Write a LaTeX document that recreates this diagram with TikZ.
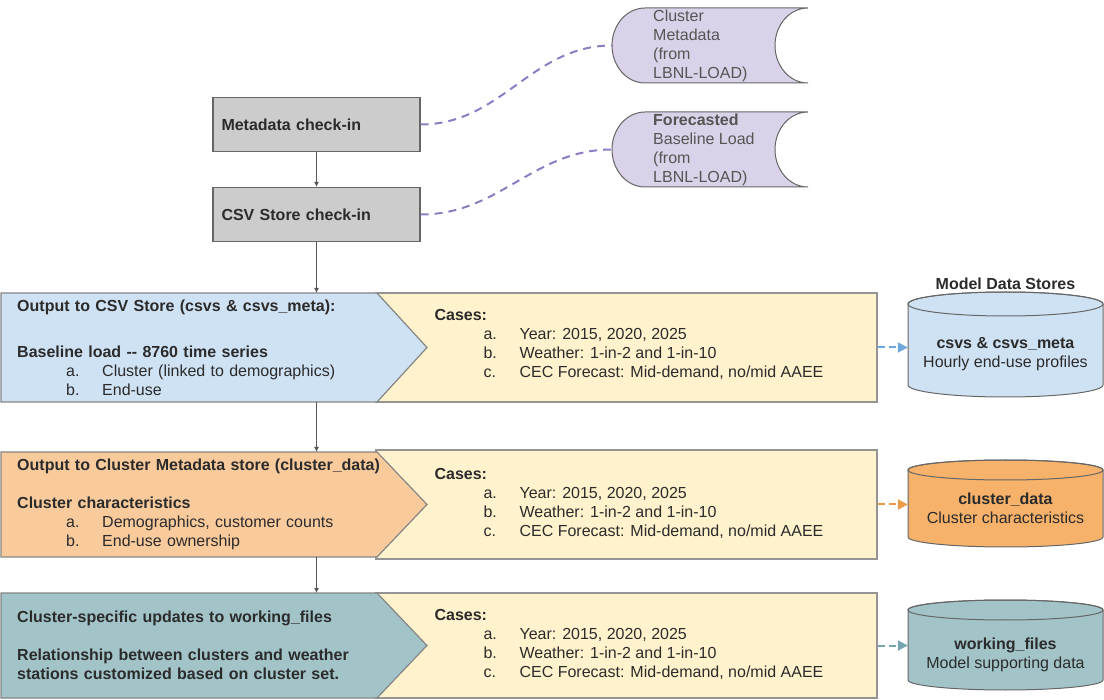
\documentclass[tikz,border=0pt]{standalone}
\usepackage{fontspec}
\setmainfont{Liberation Sans}
\usepackage{xcolor}
\usetikzlibrary{arrows.meta}

\definecolor{textgray}{HTML}{2B2B2B}
\definecolor{boxgray}{HTML}{CCCCCC}
\definecolor{edgegray}{HTML}{666666}
\definecolor{srcpurple}{HTML}{D9D2E9}
\definecolor{linkpurple}{HTML}{8E7CC3}
\definecolor{csvblue}{HTML}{CFE2F3}
\definecolor{csvarrow}{HTML}{6FA8DC}
\definecolor{metaorange}{HTML}{F9CB9C}
\definecolor{storeorange}{HTML}{F6B26B}
\definecolor{orangearrow}{HTML}{EB9A45}
\definecolor{workteal}{HTML}{A2C4C9}
\definecolor{tealarrow}{HTML}{76A5AF}
\definecolor{casesyellow}{HTML}{FFF2CC}

\newcommand\diagfont{\fontsize{16pt}{19pt}\selectfont}
\newcommand\listrow[2]{\hspace*{49pt}\makebox[36pt][l]{#1}#2}

\tikzset{
    checkbox/.style={draw=edgegray, fill=boxgray, line width=1.2pt, minimum width=207pt,
        minimum height=54pt, text width=190pt, align=left, inner sep=0pt,
        font=\diagfont\bfseries, text=textgray},
    srcshape/.style={draw=edgegray, fill=srcpurple, line width=1pt},
    srctext/.style={anchor=west, align=left, inner sep=0pt, font=\diagfont, text=textgray!80},
    srclink/.style={draw=linkpurple, line width=2pt, dash pattern=on 8pt off 6pt},
    bandedge/.style={draw=edgegray!80, line width=1.2pt},
    bandtext/.style={anchor=north west, minimum height=109pt, text width=370pt,
        inner xsep=16pt, inner ysep=0pt, align=left, font=\diagfont, text=textgray},
    casesbox/.style={draw=edgegray!70, fill=casesyellow, line width=1.2pt,
        minimum width=501pt, minimum height=109pt, inner sep=0pt},
    casestext/.style={anchor=west, align=left, inner sep=0pt, font=\diagfont, text=textgray},
    storeedge/.style={draw=edgegray, line width=1pt},
    storetext/.style={align=center, minimum width=195pt, inner sep=0pt, font=\diagfont, text=textgray},
    flow/.style={draw=textgray!80, line width=1.2pt, -{Latex[length=5pt,width=5pt]}},
    storelink/.style={line width=2pt, dash pattern=on 7pt off 4pt, -{Triangle[length=10pt,width=10pt]}},
}

\begin{document}
\begin{tikzpicture}[x=1pt, y=-1pt]
    \useasboundingbox (0,0) rectangle (1104,700);

    % Source data from LBNL-LOAD
    \draw[srcshape] (645,8) arc[start angle=90, end angle=270, x radius=33pt, y radius=37.5pt]
        -- (808,83) arc[start angle=270, end angle=90, x radius=33pt, y radius=37.5pt] -- cycle;
    \draw[srcshape] (645,112) arc[start angle=90, end angle=270, x radius=33pt, y radius=37.5pt]
        -- (808,187) arc[start angle=270, end angle=90, x radius=33pt, y radius=37.5pt] -- cycle;
    \coordinate (srcmetaL) at (612,45.5);
    \coordinate (srcloadL) at (612,149.5);
    \node[srctext] (srcmeta) at (653,46) {Cluster\\Metadata\\(from\\LBNL-LOAD)};
    \node[srctext] (srcload) at (653,150) {\textbf{Forecasted}\\Baseline Load\\(from\\LBNL-LOAD)};

    % Check-in steps
    \node[checkbox] (metachk) at (316.5,124.5) {Metadata check-in};
    \node[checkbox] (csvchk) at (316.5,214.5) {CSV Store check-in};

    \draw[srclink] (metachk.east) to[out=0, in=180] (srcmetaL);
    \draw[srclink] (csvchk.east) to[out=0, in=180] (srcloadL);

    % Output bands with their cases
    \node[casesbox] (cases1) at (626.5,347.5) {};
    \draw[bandedge, fill=csvblue] (1,293) -- (377,293) -- (427,347.5) -- (377,402) -- (1,402) -- cycle;
    \node[bandtext] (outcsv) at (1,293) {\textbf{Output to CSV Store (csvs \& csvs\_meta):}\\[27pt]
        \textbf{Baseline load -{}- 8760 time series}\\
        \listrow{a.}{Cluster (linked to demographics)}\\
        \listrow{b.}{End-use}};

    \node[casesbox] (cases2) at (626.5,504.5) {};
    \draw[bandedge, fill=metaorange] (1,452) -- (377,452) -- (427,504.5) -- (377,557) -- (1,557) -- cycle;
    \node[bandtext, minimum height=105pt] (outmeta) at (1,452) {\textbf{Output to Cluster Metadata store (cluster\_data)}\\[19pt]
        \textbf{Cluster characteristics}\\
        \listrow{a.}{Demographics, customer counts}\\
        \listrow{b.}{End-use ownership}};

    \node[casesbox, minimum height=105pt] (cases3) at (626.5,645.5) {};
    \draw[bandedge, fill=workteal] (1,593) -- (377,593) -- (427,645.5) -- (377,698) -- (1,698) -- cycle;
    \node[bandtext, minimum height=105pt] (outwork) at (1,593) {\textbf{Cluster-specific updates to working\_files}\\[19pt]
        \textbf{Relationship between clusters and weather}\\
        \textbf{stations customized based on cluster set.}};

    \node[casestext] (cases1txt) at ([xshift=59pt, yshift=3pt]cases1.west) {\textbf{Cases:}\\
        \listrow{a.}{Year: 2015, 2020, 2025}\\
        \listrow{b.}{Weather: 1-in-2 and 1-in-10}\\
        \listrow{c.}{CEC Forecast: Mid-demand, no/mid AAEE}};
    \node[casestext] (cases2txt) at ([xshift=59pt, yshift=1pt]cases2.west) {\textbf{Cases:}\\
        \listrow{a.}{Year: 2015, 2020, 2025}\\
        \listrow{b.}{Weather: 1-in-2 and 1-in-10}\\
        \listrow{c.}{CEC Forecast: Mid-demand, no/mid AAEE}};
    \node[casestext] (cases3txt) at ([xshift=59pt, yshift=1pt]cases3.west) {\textbf{Cases:}\\
        \listrow{a.}{Year: 2015, 2020, 2025}\\
        \listrow{b.}{Weather: 1-in-2 and 1-in-10}\\
        \listrow{c.}{CEC Forecast: Mid-demand, no/mid AAEE}};

    % Model data stores
    \node[font=\diagfont\bfseries, text=textgray, inner sep=0pt] (storestitle) at (1005.5,284) {Model Data Stores};

    \draw[storeedge, fill=csvblue] (908,304) -- (908,385)
        arc[start angle=180, end angle=360, x radius=97.5pt, y radius=12pt]
        -- (1103,304) arc[start angle=0, end angle=180, x radius=97.5pt, y radius=12pt] -- cycle;
    \draw[storeedge] (1005.5,304) ellipse[x radius=97.5pt, y radius=12pt];
    \node[storetext] (csvstore) at (1005.5,354) {\textbf{csvs \& csvs\_meta}\\Hourly end-use profiles};

    \draw[storeedge, fill=storeorange] (908,470) -- (908,537)
        arc[start angle=180, end angle=360, x radius=97.5pt, y radius=10pt]
        -- (1103,470) arc[start angle=0, end angle=180, x radius=97.5pt, y radius=10pt] -- cycle;
    \draw[storeedge] (1005.5,470) ellipse[x radius=97.5pt, y radius=10pt];
    \node[storetext] (metastore) at (1005.5,508) {\textbf{cluster\_data}\\Cluster characteristics};

    \draw[storeedge, fill=workteal] (908,610) -- (908,680)
        arc[start angle=180, end angle=360, x radius=97.5pt, y radius=10pt]
        -- (1103,610) arc[start angle=0, end angle=180, x radius=97.5pt, y radius=10pt] -- cycle;
    \draw[storeedge] (1005.5,610) ellipse[x radius=97.5pt, y radius=10pt];
    \node[storetext] (workstore) at (1005.5,655) {\textbf{working\_files}\\Model supporting data};

    % Draw the flow between steps
    \draw[flow] (metachk) -- (csvchk);
    \draw[flow] (csvchk) -- (csvchk |- outcsv.north);
    \draw[flow] (csvchk |- outcsv.south) -- (csvchk |- outmeta.north);
    \draw[flow] (csvchk |- outmeta.south) -- (csvchk |- outwork.north);

    \draw[storelink, draw=csvarrow] (cases1.east) -- (cases1.east -| csvstore.west);
    \draw[storelink, draw=orangearrow] (cases2.east) -- (cases2.east -| metastore.west);
    \draw[storelink, draw=tealarrow] (cases3.east) -- (cases3.east -| workstore.west);
\end{tikzpicture}
\end{document}
